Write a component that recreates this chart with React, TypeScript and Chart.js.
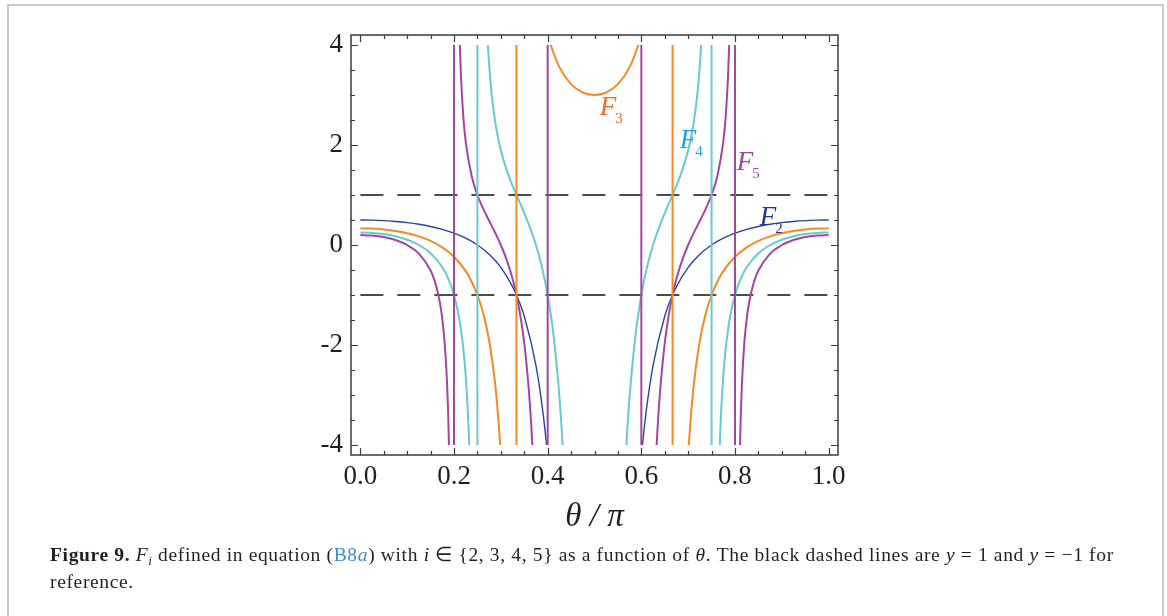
import React, { useEffect, useRef } from 'react';
import { Chart, registerables } from 'chart.js';

Chart.register(...registerables);

// ---- axes ----
const X_RANGE = [-0.02, 1.02];
const Y_RANGE = [-4.2, 4.2];
const X_MAJOR = [0, 0.2, 0.4, 0.6, 0.8, 1.0];
const X_MINOR = [0.05, 0.1, 0.15, 0.25, 0.3, 0.35, 0.45, 0.5, 0.55, 0.65, 0.7, 0.75, 0.85, 0.9, 0.95];
const Y_MAJOR = [-4, -2, 0, 2, 4];
const Y_MINOR = [-3.5, -3, -2.5, -1.5, -1, -0.5, 0.5, 1, 1.5, 2.5, 3, 3.5];
const REF_LEVELS = [1, -1];

// ---- F2 ----
const F2_X = [0, .025, .05, .075, .1, .125, .15, .175, .2, .225, .25, .275, .3, .325, .3333, .35, .375, .39, .4, .41, .425, .5,
  .575, .59, .6, .61, .625, .65, .6667, .675, .7, .725, .75, .775, .8, .825, .85, .875, .9, .925, .95, .975, 1];
const F2_Y = [.5, .4969, .4875, .4712, .4472, .4142, .3702, .3122, .2361, .1353, 0, -.1854, -.4472, -.8315, -1, -1.4259, -2.4142, -3.357, -4.2361, -5.422, -8.175, null,
  -8.175, -5.422, -4.2361, -3.357, -2.4142, -1.4259, -1, -.8315, -.4472, -.1854, 0, .1353, .2361, .3122, .3702, .4142, .4472, .4712, .4875, .4969, .5];

// ---- F3 ----
const F3_X = [0, .025, .05, .075, .1, .125, .15, .175, .2, .225, .2375, .25, .2625, .275, .2875, .29, .295, .3, .31, .32,
  .3333, .35, .36, .375, .39, .4, .41, .425, .45, .475, .5, .525, .55, .575, .59, .6, .61, .625, .64, .65,
  .6667, .68, .69, .7, .705, .71, .7125, .725, .7375, .75, .7625, .775, .8, .825, .85, .875, .9, .925, .95, .975, 1];
const F3_Y = [.3333, .3278, .3108, .2811, .2361, .1716, .0807, -.0482, -.2361, -.5234, -.7287, -1, -1.3723, -1.9107, -2.7516, -2.9787, -3.5247, -4.2361, -6.581, -12.447,
  null, 12.39, 8.279, 5.8284, 4.697, 4.2361, 3.9046, 3.5575, 3.217, 3.0505, 3, 3.0505, 3.217, 3.5575, 3.9046, 4.2361, 4.697, 5.8284, 8.279, 12.39,
  null, -12.447, -6.581, -4.2361, -3.5247, -2.9787, -2.7516, -1.9107, -1.3723, -1, -.7287, -.5234, -.2361, -.0482, .0807, .1716, .2361, .2811, .3108, .3278, .3333];
const F3_POLES = [0.3333, 0.6667];

// ---- F4 ----
const F4_X = [0, .025, .05, .075, .1, .125, .15, .175, .1875, .2, .21, .2125, .22, .225, .23, .235, .24, .25,
  .26, .265, .27, .275, .28, .2875, .29, .3, .3125, .325, .3333, .34, .35, .3625, .375, .3875, .4, .4125, .425, .43, .435, .44, .45, .5,
  .55, .56, .565, .57, .575, .5875, .6, .6125, .625, .6375, .65, .66, .6667, .675, .6875, .7, .71, .7125, .72, .725, .73, .735, .74, .75,
  .76, .765, .77, .775, .78, .7875, .79, .8, .8125, .825, .85, .875, .9, .925, .95, .975, 1];
const F4_Y = [.25, .2422, .218, .1744, .1056, 0, -.1656, -.4452, -.6682, -1, -1.4109, -1.5472, -2.0882, -2.6286, -3.4312, -4.7669, -7.432, null,
  8.428, 5.7578, 4.4154, 3.6035, 3.0518, 2.4896, 2.3453, 1.8944, 1.4966, 1.1856, 1, .856, .6377, .3436, 0, -.4293, -1, -1.8066, -3.0263, -3.7009, -4.5346, -5.5823, -8.69, null,
  -8.69, -5.5823, -4.5346, -3.7009, -3.0263, -1.8066, -1, -.4293, 0, .3436, .6377, .856, 1, 1.1856, 1.4966, 1.8944, 2.3453, 2.4896, 3.0518, 3.6035, 4.4154, 5.7578, 8.428, null,
  -7.432, -4.7669, -3.4312, -2.6286, -2.0882, -1.5472, -1.4109, -1, -.6682, -.4452, -.1656, 0, .1056, .1744, .218, .2422, .25];
const F4_POLES = [0.25, 0.75];

// ---- F5 ----
const F5_X = [0, .025, .05, .075, .1, .125, .15, .16, .17, .175, .18, .185, .1875, .19, .1925, .195, .2,
  .205, .2075, .21, .2125, .215, .22, .225, .2375, .25, .2625, .275, .2875, .3, .3125, .325, .3333, .34, .35, .36, .3625, .365, .3675, .37, .375, .38, .5,
  .62, .625, .63, .6325, .635, .6375, .64, .65, .66, .6667, .675, .6875, .7, .7125, .725, .7375, .75, .7625, .775, .78, .785, .7875, .79, .7925, .795, .8,
  .805, .8075, .81, .8125, .815, .82, .825, .83, .84, .85, .875, .9, .925, .95, .975, 1];
const F5_Y = [.2, .19, .1584, .0994, 0, -.1716, -.5095, -.7566, -1.1607, -1.4794, -1.9521, -2.7361, -3.3592, -4.2909, -5.8394, -8.929, null,
  9.544, 6.448, 4.8983, 3.9632, 3.3387, 2.5477, 2.062, 1.3835, 1, .7228, .485, .2523, 0, -.2977, -.6759, -1, -1.3216, -1.9626, -2.925, -3.2464, -3.6136, -4.039, -4.5346, -5.8284, -7.771, null,
  -7.771, -5.8284, -4.5346, -4.039, -3.6136, -3.2464, -2.925, -1.9626, -1.3216, -1, -.6759, -.2977, 0, .2523, .485, .7228, 1, 1.3835, 2.062, 2.5477, 3.3387, 3.9632, 4.8983, 6.448, 9.544, null,
  -8.929, -5.8394, -4.2909, -3.3592, -2.7361, -1.9521, -1.4794, -1.1607, -.7566, -.5095, -.1716, 0, .0994, .1584, .19, .2];
const F5_POLES = [0.2, 0.4, 0.6, 0.8];

const POLE_REACH = 10;

// ---- in-plot labels (data coordinates of the F baseline-left) ----
const LABELS = [
  { main: 'F', sub: '3', x: 0.511, y: 2.6, color: '#ef6a2b' },
  { main: 'F', sub: '4', x: 0.682, y: 1.94, color: '#1ca3e4' },
  { main: 'F', sub: '5', x: 0.804, y: 1.5, color: '#9b4a9f' },
  { main: 'F', sub: '2', x: 0.853, y: 0.4, color: '#1f3890' },
];

const COLORS = { f2: '#2a44a0', f3: '#f38a26', f4: '#68c9d3', f5: '#a2479f' };
const TEXT = '#231f20';
const SERIF = "'Liberation Serif', 'Times New Roman', serif";

const pts = (xs: number[], ys: (number | null)[]) => xs.map((x, i) => ({ x, y: ys[i] }));
const poleLines = (poles: number[]) =>
  poles.flatMap((p) => [{ x: p, y: -POLE_REACH }, { x: p, y: POLE_REACH }, { x: p, y: null }]);

const CLIP4 = { left: 0, right: 0, top: -10, bottom: -10 };

const curve = (data: any[], color: string, width: number) => ({
  data,
  borderColor: color,
  backgroundColor: color,
  borderWidth: width,
  pointRadius: 0,
  fill: false,
  spanGaps: false,
  cubicInterpolationMode: 'monotone' as const,
  clip: CLIP4,
});

const pole = (data: any[], color: string) => ({
  data,
  borderColor: color,
  borderWidth: 2,
  pointRadius: 0,
  fill: false,
  spanGaps: false,
  tension: 0,
  clip: CLIP4,
});

const framePlugin = {
  id: 'frameTicks',
  afterDraw(chart: any) {
    const { ctx, chartArea: a, scales } = chart;
    const x = scales.x;
    const y = scales.y;
    ctx.save();
    ctx.strokeStyle = '#3b3b3b';
    ctx.lineWidth = 1.5;
    ctx.strokeRect(a.left, a.top, a.right - a.left, a.bottom - a.top);
    ctx.lineWidth = 1.2;
    const vt = (v: number, len: number) => {
      const px = Math.round(x.getPixelForValue(v)) + 0.5;
      ctx.beginPath();
      ctx.moveTo(px, a.bottom); ctx.lineTo(px, a.bottom - len);
      ctx.moveTo(px, a.top); ctx.lineTo(px, a.top + len);
      ctx.stroke();
    };
    const ht = (v: number, len: number) => {
      const py = Math.round(y.getPixelForValue(v)) + 0.5;
      ctx.beginPath();
      ctx.moveTo(a.left, py); ctx.lineTo(a.left + len, py);
      ctx.moveTo(a.right, py); ctx.lineTo(a.right - len, py);
      ctx.stroke();
    };
    X_MAJOR.forEach((v) => vt(v, 7));
    X_MINOR.forEach((v) => vt(v, 4));
    Y_MAJOR.forEach((v) => ht(v, 7));
    Y_MINOR.forEach((v) => ht(v, 4));
    ctx.restore();
  },
};

const labelPlugin = {
  id: 'fLabels',
  afterDatasetsDraw(chart: any) {
    const { ctx, scales } = chart;
    ctx.save();
    ctx.textBaseline = 'alphabetic';
    ctx.textAlign = 'left';
    LABELS.forEach((l) => {
      const px = scales.x.getPixelForValue(l.x);
      const py = scales.y.getPixelForValue(l.y);
      ctx.fillStyle = l.color;
      ctx.font = `italic 27px ${SERIF}`;
      ctx.fillText(l.main, px, py);
      const w = ctx.measureText(l.main).width;
      ctx.font = `15px ${SERIF}`;
      ctx.fillText(l.sub, px + w - 1, py + 8);
    });
    ctx.restore();
  },
};

export default function App() {
  const ref = useRef<HTMLCanvasElement | null>(null);

  useEffect(() => {
    if (!ref.current) return;
    const chart = new Chart(ref.current, {
      type: 'line',
      data: {
        datasets: [
          pole(poleLines(F5_POLES), COLORS.f5),
          pole(poleLines(F4_POLES), COLORS.f4),
          pole(poleLines(F3_POLES), COLORS.f3),
          curve(pts(F5_X, F5_Y), COLORS.f5, 2),
          curve(pts(F4_X, F4_Y), COLORS.f4, 2),
          curve(pts(F3_X, F3_Y), COLORS.f3, 2),
          curve(pts(F2_X, F2_Y), COLORS.f2, 1.4),
          ...REF_LEVELS.map((lv) => ({
            data: [{ x: 0, y: lv }, { x: X_RANGE[1], y: lv }],
            borderColor: '#111111',
            borderWidth: 1.3,
            borderDash: [23, 14],
            pointRadius: 0,
            fill: false,
            tension: 0,
          })),
        ] as any,
      },
      options: {
        animation: false,
        responsive: false,
        maintainAspectRatio: false,
        events: [],
        layout: { padding: { left: 251, right: 329, top: 35, bottom: 20 } },
        plugins: { legend: { display: false }, tooltip: { enabled: false }, title: { display: false } },
        scales: {
          x: {
            type: 'linear',
            min: X_RANGE[0],
            max: X_RANGE[1],
            grid: { display: false, drawTicks: false },
            border: { display: false },
            afterBuildTicks: (s: any) => { s.ticks = X_MAJOR.map((v) => ({ value: v })); },
            afterFit: (s: any) => { s.height = 141; },
            ticks: {
              autoSkip: false,
              maxRotation: 0,
              padding: 6,
              color: TEXT,
              font: { family: SERIF, size: 27 },
              callback: (v: any) => Number(v).toFixed(1),
            },
            title: {
              display: true,
              text: 'θ / π',
              color: TEXT,
              font: { family: SERIF, size: 33, style: 'italic' },
              padding: { top: 0, bottom: 59 },
            },
          },
          y: {
            type: 'linear',
            min: Y_RANGE[0],
            max: Y_RANGE[1],
            grid: { display: false, drawTicks: false },
            border: { display: false },
            afterBuildTicks: (s: any) => { s.ticks = Y_MAJOR.map((v) => ({ value: v })); },
            afterFit: (s: any) => { s.width = 100; },
            ticks: {
              autoSkip: false,
              padding: 8,
              color: TEXT,
              font: { family: SERIF, size: 27 },
              callback: (v: any) => String(v),
            },
          },
        },
      } as any,
      plugins: [labelPlugin, framePlugin],
    });
    return () => chart.destroy();
  }, []);

  const ital = { fontStyle: 'italic' } as const;
  return (
    <div style={{ position: 'absolute', left: 0, top: 0, width: 1167, height: 616, overflow: 'hidden', background: '#fff' }}>
      <div style={{ position: 'absolute', left: 7, top: 4, width: 1157, height: 700, boxSizing: 'border-box', border: '2px solid #c9c9c9', borderBottom: 'none' }} />
      <canvas ref={ref} width={1167} height={616} style={{ position: 'absolute', left: 0, top: 0, width: 1167, height: 616 }} />
      <div style={{ position: 'absolute', left: 50, top: 542, fontFamily: SERIF, fontSize: 19.5, letterSpacing: '0.65px', lineHeight: '25px', color: TEXT, whiteSpace: 'nowrap' }}>
        <div>
          <b>Figure 9.</b> <span style={ital}>F</span><span style={{ ...ital, fontSize: 13, position: 'relative', top: 4 }}>i</span> defined in equation (<span style={{ color: '#3a8dc9' }}>B8<span style={ital}>a</span></span>) with <span style={ital}>i</span> ∈ {'{'}2, 3, 4, 5{'}'} as a function of <span style={ital}>θ</span>. The black dashed lines are <span style={ital}>y</span> = 1 and <span style={ital}>y</span> = −1 for
        </div>
        <div>reference.</div>
      </div>
    </div>
  );
}
